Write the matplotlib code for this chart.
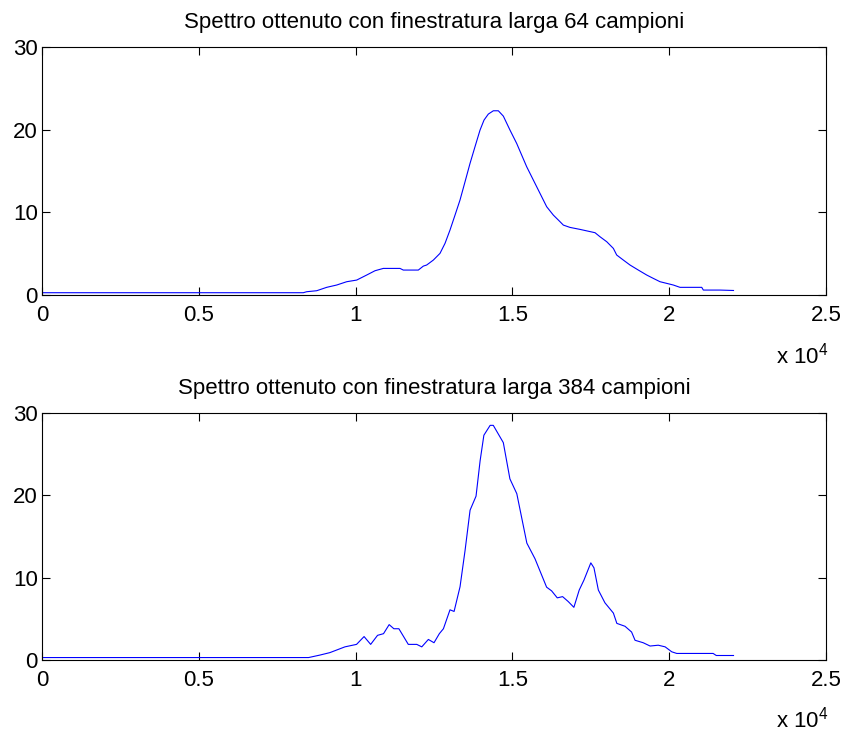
import matplotlib
matplotlib.use("Agg")
import matplotlib.pyplot as plt

plt.rcParams['font.family'] = ['Liberation Sans', 'DejaVu Sans']
plt.rcParams['mathtext.fontset'] = 'custom'
plt.rcParams['mathtext.rm'] = 'Liberation Sans'
plt.rcParams['mathtext.it'] = 'Liberation Sans'

# Top spectrum (64-sample window): frequency (Hz) and magnitude
f64 = [0, 8333, 8440, 8759, 9078, 9397, 9716, 10035, 10354, 10619, 10884,
       11416, 11521, 12000, 12160, 12266, 12479, 12691, 12851, 13010, 13170,
       13329, 13489, 13648, 13807, 13967, 14094, 14232, 14392, 14551, 14711,
       14923, 15136, 15455, 15774, 16093, 16305, 16518, 16624, 16837, 17156,
       17634, 17793, 18007, 18219, 18325, 18537, 18750, 19015, 19282, 19494,
       19707, 19920, 20131, 20344, 21037, 21088, 21620, 22050]
m64 = [0.28, 0.28, 0.4, 0.52, 0.93, 1.21, 1.61, 1.81, 2.42, 2.94, 3.22,
       3.22, 3.02, 3.02, 3.5, 3.63, 4.23, 5.04, 6.25, 7.86, 9.67,
       11.49, 13.7, 15.92, 17.94, 19.95, 21.16, 21.89, 22.29, 22.29, 21.64,
       19.95, 18.34, 15.52, 13.1, 10.68, 9.67, 8.87, 8.46, 8.18, 7.94,
       7.54, 7.05, 6.45, 5.64, 4.84, 4.23, 3.63, 3.02, 2.42, 2.01,
       1.61, 1.41, 1.21, 0.93, 0.93, 0.6, 0.6, 0.55]

# Bottom spectrum (384-sample window)
f384 = [0, 8500, 8860, 9180, 9660, 10030, 10270, 10480, 10700, 10890, 11070,
        11220, 11380, 11680, 11950, 12110, 12320, 12500, 12670, 12800, 13010,
        13140, 13330, 13490, 13650, 13840, 13970, 14090, 14290, 14390, 14710,
        14920, 15140, 15460, 15720, 16090, 16250, 16430, 16600, 16780, 16960,
        17130, 17280, 17500, 17600, 17740, 17950, 18220, 18330, 18590, 18800,
        18910, 19170, 19390, 19650, 19870, 20080, 20240, 21400, 21500, 22050]
m384 = [0.3, 0.3, 0.6, 0.9, 1.6, 1.9, 2.85, 1.9, 3.0, 3.2, 4.3,
        3.8, 3.8, 1.9, 1.9, 1.6, 2.5, 2.1, 3.2, 3.8, 6.1,
        5.9, 8.9, 13.3, 18.2, 19.9, 24.2, 27.3, 28.5, 28.5, 26.4,
        22.0, 20.2, 14.2, 12.3, 8.85, 8.4, 7.55, 7.7, 7.1, 6.4,
        8.5, 9.7, 11.8, 11.2, 8.5, 6.95, 5.7, 4.45, 4.1, 3.4,
        2.4, 2.1, 1.7, 1.8, 1.6, 1.0, 0.8, 0.8, 0.55, 0.55]

titles = ["Spettro ottenuto con finestratura larga 64 campioni",
          "Spettro ottenuto con finestratura larga 384 campioni"]
xticks = [0, 5000, 10000, 15000, 20000, 25000]
xticklabels = ["0", "0.5", "1", "1.5", "2", "2.5"]
yticks = [0, 10, 20, 30]

fig = plt.figure(figsize=(8.5, 7.35), dpi=100)
ax1 = fig.add_axes([0.0494, 0.5986, 0.9224, 0.3374])
ax2 = fig.add_axes([0.0494, 0.1020, 0.9224, 0.3361])

for ax, f, m, t in [(ax1, f64, m64, titles[0]), (ax2, f384, m384, titles[1])]:
    ax.plot(f, m, color=(0, 0, 1), lw=0.8)
    ax.set_xlim(0, 25000)
    ax.set_ylim(0, 30)
    ax.set_xticks(xticks)
    ax.set_xticklabels(xticklabels)
    ax.set_yticks(yticks)
    ax.tick_params(direction='in', length=6, width=0.8, top=True, right=True,
                   labelsize=16)
    ax.tick_params(axis='x', pad=7)
    ax.tick_params(axis='y', pad=3)
    for s in ax.spines.values():
        s.set_linewidth(0.8)
    ax.set_title(t, fontsize=16, pad=14)
    ax.text(1.003, -0.275, r"x 10$^4$", transform=ax.transAxes, ha='right',
            va='baseline', fontsize=16)

fig.savefig("out.png", dpi=100)
